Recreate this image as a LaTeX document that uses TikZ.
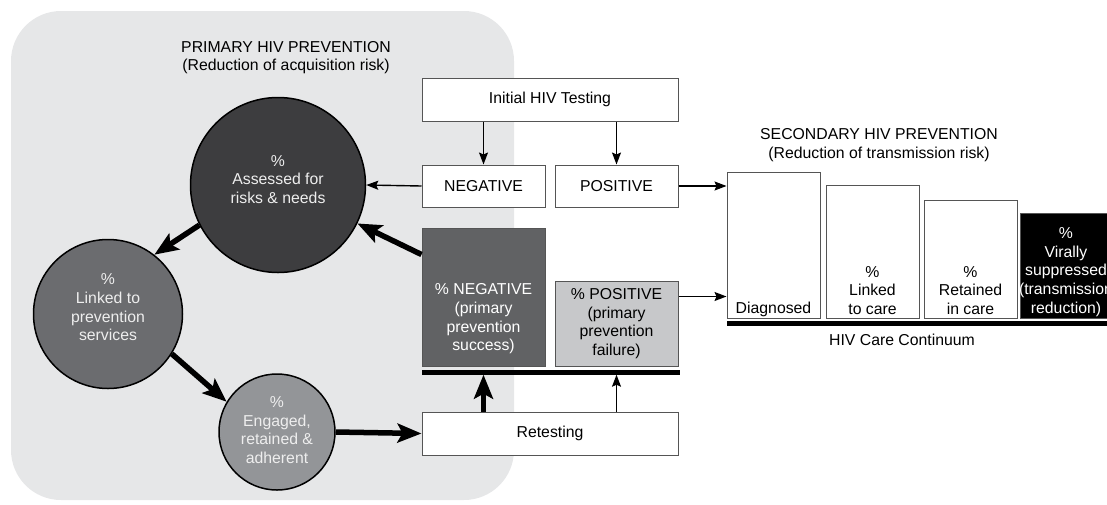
\documentclass[tikz,border=0pt]{standalone}
\usepackage{fontspec}
\setmainfont{Liberation Sans}
\usetikzlibrary{arrows.meta,calc}
\definecolor{bggray}{HTML}{E6E7E8}
\definecolor{cone}{HTML}{3D3D3F}
\definecolor{ctwo}{HTML}{6B6C6F}
\definecolor{cthree}{HTML}{939598}
\definecolor{negfill}{HTML}{616264}
\definecolor{posfill}{HTML}{C7C8CA}
\definecolor{boxline}{HTML}{555555}
\definecolor{circtext}{HTML}{EEEEEE}
\begin{document}
\begin{tikzpicture}[x=1pt,y=-1pt,
  every node/.style={font=\fontsize{15.8}{18.7}\selectfont, align=center, inner sep=0pt},
  box/.style={rectangle, draw=boxline, line width=1pt, fill=white, minimum height=43pt},
  circ/.style={circle, draw=black, line width=1.5pt},
  ctext/.style={text=circtext},
  thinarr/.style={line width=1.4pt, -{Stealth[length=12pt,width=9pt,inset=2pt]}},
  thickarr/.style={line width=5.5pt, -{Stealth[length=24pt,width=19pt,inset=5pt]}},
]
\useasboundingbox (0,0) rectangle (1107,504);
\clip (0,0) rectangle (1107,504);
\fill[bggray, rounded corners=50pt] (11,11) rectangle (514,500);

\node (prim) at (286,57.5) {PRIMARY HIV PREVENTION\\(Reduction of acquisition risk)};
\node (sec) at (879,145) {SECONDARY HIV PREVENTION\\(Reduction of transmission risk)};

% circles
\node[circ, fill=cone, minimum size=175pt] (c1) at (278,185) {};
\node[ctext] (c1t) at (278,179.5) {\%\\Assessed for\\risks \& needs};
\node[circ, fill=ctwo, minimum size=149pt] (c2) at (108,314) {};
\node[ctext] (c2t) at (108,307.5) {\%\\Linked to\\prevention\\services};
\node[circ, fill=cthree, minimum size=116pt] (c3) at (277,432) {};
\node[ctext] (c3t) at (277,430) {\%\\Engaged,\\retained \&\\adherent};

% testing boxes
\node[box, minimum width=256pt] (init) at (550,99.5) {Initial HIV Testing};
\node[box, minimum width=123pt, minimum height=42pt] (neg) at (483.5,186) {NEGATIVE};
\node[box, minimum width=123pt, minimum height=42pt] (pos) at (616.5,186) {POSITIVE};
\node[rectangle, draw=boxline, line width=1pt, fill=negfill, minimum width=123pt, minimum height=138pt] (negres) at (483.5,297) {};
\node[text=white] (negrest) at (483.5,319) {\% NEGATIVE\\(primary\\prevention\\success)};
\node[rectangle, draw=boxline, line width=1pt, fill=posfill, minimum width=123pt, minimum height=85pt] (posres) at (616.5,323.5) {\% POSITIVE\\(primary\\prevention\\failure)};
\node[rectangle, fill=black, minimum width=258pt, minimum height=5pt] (bar) at (551,372) {};
\node[box, minimum width=256pt] (retest) at (550,433.5) {Retesting};

% care continuum
\node[box, minimum width=93pt, minimum height=146pt] (diag) at (773.5,245) {};
\node[box, minimum width=93pt, minimum height=133pt] (link) at (872.5,251.5) {};
\node[box, minimum width=93pt, minimum height=118pt] (ret) at (970.5,259) {};
\node[rectangle, draw=boxline, line width=1pt, fill=black, minimum width=93pt, minimum height=105pt] (vir) at (1066.5,265.5) {};
\node (diagt) at (773.5,309) {Diagnosed};
\node (linkt) at (872.5,290.5) {\%\\Linked\\to care};
\node (rett) at (970.5,290.5) {\%\\Retained\\in care};
\node[text=white] (virt) at (1066,272) {\%\\Virally\\suppressed\\(transmission\\reduction)};
\node[rectangle, fill=black, minimum width=393pt, minimum height=5pt] (bar2) at (923.5,323) {};
\node (cont) at (902,340) {HIV Care Continuum};

% arrows
\draw[thinarr] (init.south -| neg) -- (neg.north);
\draw[thinarr] (init.south -| pos) -- (pos.north);
\draw[thinarr] (neg.west) -- (c1.east);
\draw[thinarr] (pos.east) -- (pos.east -| diag.west);
\coordinate (pr) at ($(posres.north east)+(0,16)$);
\draw[thinarr] (pr) -- (pr -| diag.west);
\draw[thinarr] (retest.north -| posres) -- (posres |- bar.south);
\draw[thickarr] (retest.north -| negres) -- (negres |- bar.south);
\draw[thickarr] (c3.east) -- (retest.west);
\coordinate (nr) at ($(negres.north west)+(0,27)$);
\draw[thickarr] (nr) -- (c1);
\draw[thickarr] (c1.207) -- (c2.52);
\draw[thickarr] (c2.-32) -- (c3.149);
\end{tikzpicture}
\end{document}
